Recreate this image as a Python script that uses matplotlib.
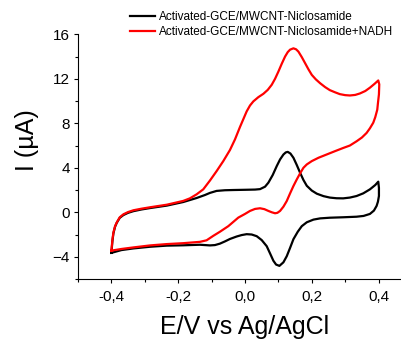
import matplotlib
matplotlib.use("Agg")
import matplotlib.pyplot as plt
from matplotlib.ticker import MultipleLocator, FuncFormatter

plt.rcParams['font.family'] = ['Liberation Sans', 'DejaVu Sans']

# Data (E in V, I in uA), one closed CV loop per series
E_black = [-0.400, -0.397, -0.394, -0.389, -0.384, -0.375, -0.364, -0.350, -0.334, -0.310,
           -0.284, -0.234, -0.185, -0.145, -0.120, -0.105, -0.085, -0.060, -0.035, 0.000,
           0.030, 0.045, 0.060, 0.070, 0.083, 0.095, 0.105, 0.115, 0.122, 0.128,
           0.136, 0.145, 0.155, 0.165, 0.175, 0.185, 0.200, 0.215, 0.235, 0.254,
           0.274, 0.294, 0.314, 0.334, 0.354, 0.374, 0.390, 0.399,
           0.401, 0.401, 0.398, 0.394, 0.386, 0.374, 0.355, 0.334, 0.294, 0.254,
           0.225, 0.205, 0.185, 0.170, 0.158, 0.145, 0.135, 0.125, 0.115, 0.103,
           0.093, 0.085, 0.075, 0.065, 0.050, 0.035, 0.020, 0.005, -0.010, -0.025,
           -0.045, -0.060, -0.075, -0.090, -0.105, -0.135, -0.185, -0.234, -0.284, -0.334,
           -0.370, -0.400]
I_black = [-3.65, -2.6, -1.9, -1.3, -0.95, -0.5, -0.25, -0.05, 0.1, 0.25,
           0.38, 0.6, 0.92, 1.28, 1.55, 1.74, 1.92, 1.98, 2.0, 2.02,
           2.04, 2.08, 2.3, 2.66, 3.35, 4.15, 4.75, 5.19, 5.38, 5.43,
           5.28, 4.9, 4.25, 3.55, 2.9, 2.38, 1.95, 1.67, 1.45, 1.32,
           1.26, 1.25, 1.32, 1.46, 1.7, 2.06, 2.45, 2.75,
           2.2, 1.46, 0.95, 0.57, 0.15, -0.15, -0.33, -0.4, -0.45, -0.49,
           -0.55, -0.66, -0.9, -1.25, -1.75, -2.42, -3.2, -3.95, -4.5, -4.82,
           -4.7, -4.36, -3.7, -3.05, -2.5, -2.15, -2.0, -1.97, -2.05, -2.18,
           -2.4, -2.62, -2.82, -2.95, -2.98, -2.92, -2.97, -3.0, -3.1, -3.25,
           -3.4, -3.65]

E_red = [-0.400, -0.397, -0.394, -0.389, -0.384, -0.375, -0.364, -0.350, -0.334, -0.310,
         -0.284, -0.234, -0.185, -0.165, -0.145, -0.125, -0.105, -0.085, -0.065, -0.045,
         -0.030, -0.015, 0.005, 0.015, 0.025, 0.040, 0.055, 0.068, 0.080, 0.090,
         0.100, 0.110, 0.120, 0.128, 0.135, 0.145, 0.153, 0.160, 0.170, 0.180,
         0.190, 0.200, 0.212, 0.225, 0.240, 0.254, 0.270, 0.284, 0.300, 0.314,
         0.330, 0.344, 0.360, 0.374, 0.388, 0.399,
         0.402, 0.401, 0.398, 0.396, 0.390, 0.384, 0.374, 0.364, 0.350, 0.334,
         0.314, 0.294, 0.270, 0.245, 0.220, 0.200, 0.185, 0.175, 0.165, 0.155,
         0.145, 0.135, 0.125, 0.115, 0.105, 0.097, 0.090, 0.080, 0.070, 0.058,
         0.045, 0.030, 0.015, 0.000, -0.020, -0.050, -0.075, -0.095, -0.115, -0.135,
         -0.185, -0.234, -0.284, -0.334, -0.370, -0.400]
I_red = [-3.45, -2.5, -1.82, -1.25, -0.92, -0.45, -0.18, 0.02, 0.18, 0.32,
         0.45, 0.68, 1.02, 1.25, 1.61, 2.06, 2.85, 3.7, 4.6, 5.6,
         6.55, 7.67, 9.07, 9.6, 9.97, 10.35, 10.65, 11.0, 11.46, 12.0,
         12.65, 13.35, 14.0, 14.4, 14.62, 14.74, 14.65, 14.44, 13.95, 13.4,
         12.85, 12.35, 11.95, 11.6, 11.25, 10.98, 10.78, 10.62, 10.53, 10.5,
         10.55, 10.68, 10.9, 11.2, 11.55, 11.85,
         11.5, 10.6, 9.8, 9.22, 8.55, 8.05, 7.55, 7.13, 6.72, 6.38,
         6.0, 5.78, 5.5, 5.2, 4.9, 4.6, 4.3, 4.0, 3.5, 2.95,
         2.36, 1.7, 1.01, 0.5, 0.12, -0.05, -0.09, 0.0, 0.12, 0.28,
         0.36, 0.3, 0.12, -0.15, -0.48, -1.25, -1.75, -2.12, -2.52, -2.66,
         -2.78, -2.86, -2.98, -3.16, -3.3, -3.45]

labels = ["Activated-GCE/MWCNT-Niclosamide", "Activated-GCE/MWCNT-Niclosamide+NADH"]
colors = ["black", "#ff0000"]

fig = plt.figure(figsize=(4.01, 3.42), dpi=100)
ax = fig.add_axes([78 / 401, 1 - 279 / 342, 334 / 401, (279 - 34.3) / 342])

ax.plot(E_black, I_black, color=colors[0], lw=1.6, label=labels[0])
ax.plot(E_red, I_red, color=colors[1], lw=1.6, label=labels[1])

ax.set_xlim(-0.5, 0.5)
ax.set_ylim(-6, 16)
ax.spines['top'].set_visible(False)
ax.spines['right'].set_visible(False)

ax.xaxis.set_major_locator(MultipleLocator(0.2))
ax.xaxis.set_minor_locator(MultipleLocator(0.1))
ax.yaxis.set_major_locator(MultipleLocator(4))
ax.yaxis.set_minor_locator(MultipleLocator(2))
ax.xaxis.set_major_formatter(FuncFormatter(lambda v, p: f"{v:.1f}".replace(".", ",").replace("-0,0", "0,0")))
ax.tick_params(which='major', direction='out', length=3, width=0.8, labelsize=11)
ax.tick_params(axis='x', which='major', pad=5)
ax.tick_params(axis='y', which='major', pad=3)
ax.tick_params(which='minor', direction='out', length=2, width=0.8)

ax.set_xlabel("E/V vs Ag/AgCl", fontsize=18, va='top')
ax.xaxis.set_label_coords(0.5, -0.149)
ax.set_ylabel("I (\u00b5A)", fontsize=18)
ax.yaxis.set_label_coords(-0.117, 0.568)

ax.legend(loc='upper left', bbox_to_anchor=(130 / 401, 1 - 11.5 / 342),
          bbox_transform=fig.transFigure, frameon=False, fontsize=8.5,
          handlelength=2.1, handletextpad=0.35, labelspacing=0.2,
          borderpad=0, borderaxespad=0)

fig.savefig("out.png", dpi=100)
